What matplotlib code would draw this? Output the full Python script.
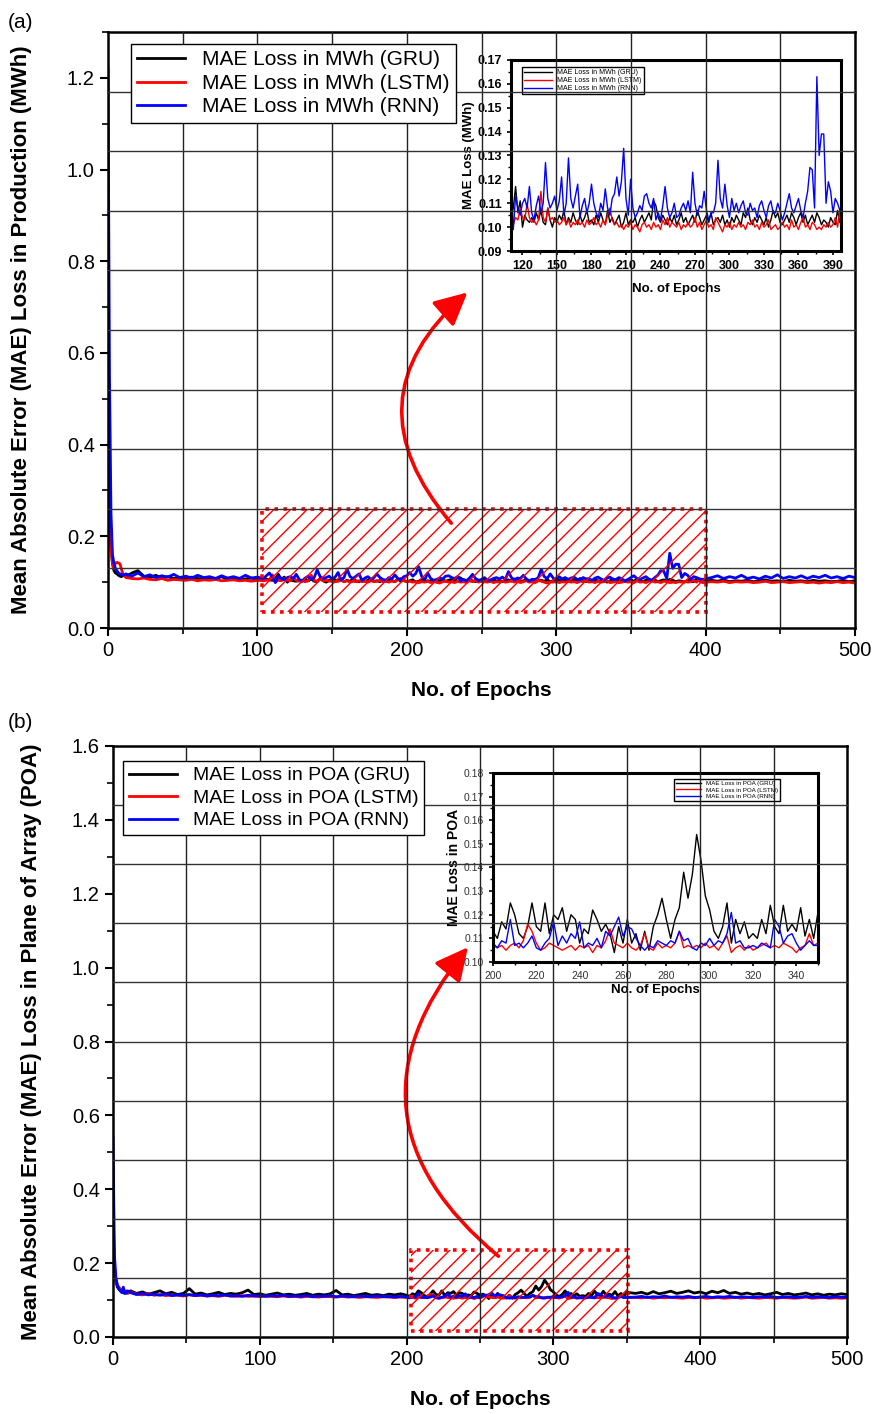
import numpy as np
import matplotlib
matplotlib.use('Agg')
import matplotlib.pyplot as plt
from matplotlib.lines import Line2D
from matplotlib.patches import Rectangle, FancyArrowPatch
from matplotlib.ticker import MultipleLocator, FormatStrFormatter

plt.rcParams['font.family'] = ['Liberation Sans', 'DejaVu Sans']
plt.rcParams['hatch.linewidth'] = 1.0

# ---------------- panel (a) data: MAE loss in MWh ----------------
ep_a = np.concatenate([np.arange(0, 11), np.arange(12, 109, 4),
                       np.arange(110, 399, 2), np.arange(404, 501, 4)])

gru_a = [
    0.60, 0.30, 0.18, 0.14, 0.125, 0.12, 0.118, 0.115, 0.113, 0.112, 0.115,
    # 12-108
    0.112, 0.120, 0.125, 0.113, 0.110, 0.115, 0.109, 0.112, 0.108, 0.110,
    0.107, 0.111, 0.108, 0.106, 0.110, 0.107, 0.112, 0.106, 0.108, 0.105,
    0.107, 0.109, 0.106, 0.108, 0.105,
    # 110-398
    0.104, 0.108, 0.117, 0.106, 0.111, 0.100, 0.105, 0.103, 0.102, 0.104,
    0.102, 0.106, 0.103, 0.107, 0.102, 0.101, 0.108, 0.103, 0.100, 0.104,
    0.102, 0.105, 0.103, 0.107, 0.101, 0.104, 0.102, 0.106, 0.103, 0.101,
    0.105, 0.102, 0.104, 0.107, 0.102, 0.103, 0.101, 0.105, 0.102, 0.106,
    0.103, 0.101, 0.107, 0.102, 0.104, 0.101, 0.103, 0.105, 0.100, 0.102,
    0.106, 0.101, 0.103, 0.102, 0.104, 0.100, 0.103, 0.105, 0.102, 0.104,
    0.106, 0.103, 0.111, 0.109, 0.104, 0.102, 0.105, 0.103, 0.101, 0.104,
    0.102, 0.105, 0.101, 0.103, 0.106, 0.102, 0.104, 0.101, 0.103, 0.105,
    0.102, 0.107, 0.104, 0.101, 0.103, 0.105, 0.102, 0.106, 0.101, 0.103,
    0.104, 0.102, 0.105, 0.101, 0.103, 0.100, 0.104, 0.102, 0.105, 0.103,
    0.101, 0.106, 0.104, 0.108, 0.103, 0.101, 0.104, 0.102, 0.105, 0.103,
    0.101, 0.104, 0.100, 0.103, 0.107, 0.104, 0.106, 0.102, 0.101, 0.103,
    0.105, 0.102, 0.106, 0.104, 0.101, 0.104, 0.106, 0.102, 0.105, 0.101,
    0.103, 0.105, 0.102, 0.106, 0.104, 0.101, 0.103, 0.102, 0.100, 0.104,
    0.102, 0.101, 0.107, 0.102, 0.101,
    # 404-500
    0.104, 0.102, 0.105, 0.101, 0.103, 0.102, 0.104, 0.101, 0.103, 0.105,
    0.102, 0.103, 0.101, 0.104, 0.102, 0.103, 0.101, 0.104, 0.102, 0.103,
    0.101, 0.102, 0.104, 0.101, 0.103,
]

lstm_a = [
    0.55, 0.28, 0.17, 0.14, 0.13, 0.142, 0.143, 0.142, 0.140, 0.128, 0.118,
    # 12-108
    0.110, 0.108, 0.107, 0.109, 0.106, 0.105, 0.108, 0.104, 0.106, 0.105,
    0.104, 0.106, 0.103, 0.105, 0.104, 0.106, 0.103, 0.104, 0.105, 0.103,
    0.104, 0.102, 0.104, 0.103, 0.105,
    # 110-398
    0.116, 0.101, 0.104, 0.103, 0.108, 0.104, 0.103, 0.110, 0.104, 0.102,
    0.103, 0.101, 0.103, 0.115, 0.104, 0.102, 0.108, 0.103, 0.104, 0.102,
    0.103, 0.101, 0.102, 0.104, 0.101, 0.103, 0.100, 0.102, 0.101, 0.103,
    0.101, 0.102, 0.100, 0.103, 0.101, 0.102, 0.104, 0.101, 0.102, 0.100,
    0.103, 0.101, 0.105, 0.108, 0.103, 0.101, 0.102, 0.100, 0.101, 0.099,
    0.101, 0.100, 0.102, 0.099, 0.101, 0.100, 0.098, 0.101, 0.102, 0.100,
    0.101, 0.099, 0.102, 0.100, 0.101, 0.099, 0.103, 0.101, 0.104, 0.100,
    0.102, 0.101, 0.100, 0.102, 0.099, 0.101, 0.100, 0.102, 0.100, 0.101,
    0.104, 0.100, 0.102, 0.099, 0.101, 0.103, 0.100, 0.101, 0.099, 0.104,
    0.102, 0.100, 0.098, 0.101, 0.100, 0.102, 0.099, 0.101, 0.100, 0.102,
    0.100, 0.101, 0.099, 0.102, 0.101, 0.103, 0.100, 0.101, 0.099, 0.102,
    0.100, 0.101, 0.103, 0.099, 0.100, 0.101, 0.099, 0.100, 0.102, 0.100,
    0.101, 0.099, 0.103, 0.100, 0.101, 0.099, 0.102, 0.104, 0.100, 0.101,
    0.099, 0.102, 0.101, 0.099, 0.100, 0.099, 0.101, 0.100, 0.102, 0.100,
    0.101, 0.104, 0.100, 0.107, 0.099,
    # 404-500
    0.101, 0.100, 0.102, 0.099, 0.101, 0.100, 0.101, 0.099, 0.100, 0.102,
    0.099, 0.100, 0.101, 0.099, 0.100, 0.101, 0.099, 0.100, 0.098, 0.100,
    0.099, 0.101, 0.099, 0.100, 0.098,
]

rnn_a = [
    1.22, 0.55, 0.25, 0.16, 0.14, 0.13, 0.125, 0.12, 0.118, 0.117, 0.115,
    # 12-108
    0.118, 0.113, 0.120, 0.112, 0.116, 0.110, 0.114, 0.111, 0.117, 0.110,
    0.113, 0.109, 0.115, 0.110, 0.112, 0.108, 0.114, 0.109, 0.112, 0.108,
    0.115, 0.109, 0.111, 0.108, 0.120,
    # 110-398
    0.111, 0.099, 0.113, 0.108, 0.105, 0.110, 0.112, 0.108, 0.117, 0.106,
    0.103, 0.109, 0.113, 0.106, 0.110, 0.127, 0.112, 0.108, 0.110, 0.113,
    0.107, 0.111, 0.121, 0.105, 0.110, 0.129, 0.112, 0.108, 0.113, 0.118,
    0.104, 0.109, 0.112, 0.106, 0.110, 0.118, 0.110, 0.106, 0.104, 0.110,
    0.107, 0.116, 0.108, 0.105, 0.112, 0.114, 0.121, 0.113, 0.119, 0.133,
    0.112, 0.105, 0.120, 0.108, 0.104, 0.106, 0.109, 0.107, 0.113, 0.114,
    0.110, 0.108, 0.112, 0.103, 0.106, 0.103, 0.109, 0.117, 0.108, 0.104,
    0.106, 0.110, 0.104, 0.105, 0.108, 0.110, 0.107, 0.111, 0.106, 0.123,
    0.110, 0.105, 0.109, 0.108, 0.115, 0.107, 0.103, 0.106, 0.106, 0.110,
    0.128, 0.112, 0.108, 0.118, 0.109, 0.104, 0.112, 0.107, 0.110, 0.106,
    0.109, 0.111, 0.106, 0.105, 0.110, 0.107, 0.108, 0.104, 0.109, 0.111,
    0.107, 0.104, 0.109, 0.111, 0.106, 0.106, 0.110, 0.107, 0.103, 0.106,
    0.110, 0.114, 0.108, 0.106, 0.109, 0.112, 0.107, 0.104, 0.110, 0.115,
    0.125, 0.124, 0.108, 0.163, 0.130, 0.139, 0.139, 0.110, 0.119, 0.115,
    0.106, 0.112, 0.110, 0.107, 0.106,
    # 404-500
    0.110, 0.114, 0.108, 0.112, 0.109, 0.115, 0.108, 0.111, 0.107, 0.113,
    0.109, 0.116, 0.108, 0.112, 0.109, 0.114, 0.108, 0.113, 0.110, 0.115,
    0.109, 0.112, 0.108, 0.113, 0.110,
]

labels_a = ['MAE Loss in MWh (GRU)', 'MAE Loss in MWh (LSTM)', 'MAE Loss in MWh (RNN)']

# ---------------- panel (b) data: MAE loss in POA ----------------
ep_b = np.concatenate([np.arange(0, 11), np.arange(12, 197, 4),
                       np.arange(200, 351, 2), np.arange(356, 501, 4)])

gru_b = [
    0.35, 0.19, 0.15, 0.135, 0.13, 0.125, 0.128, 0.12, 0.118, 0.122, 0.12,
    # 12-196
    0.125, 0.118, 0.122, 0.116, 0.120, 0.125, 0.117, 0.121, 0.115, 0.118,
    0.131, 0.116, 0.119, 0.114, 0.117, 0.121, 0.115, 0.118, 0.116, 0.120,
    0.127, 0.115, 0.117, 0.113, 0.116, 0.119, 0.114, 0.116, 0.113, 0.115,
    0.118, 0.113, 0.116, 0.114, 0.117, 0.126, 0.114, 0.116, 0.112, 0.115,
    0.118, 0.113, 0.115, 0.112, 0.116, 0.114, 0.117,
    # 200-350
    0.113, 0.110, 0.117, 0.114, 0.125, 0.120, 0.112, 0.110, 0.115, 0.125,
    0.115, 0.113, 0.125, 0.112, 0.120, 0.118, 0.123, 0.113, 0.120, 0.118,
    0.108, 0.114, 0.112, 0.122, 0.118, 0.113, 0.116, 0.112, 0.104, 0.115,
    0.108, 0.118, 0.108, 0.112, 0.105, 0.113, 0.105, 0.115, 0.120, 0.127,
    0.118, 0.110, 0.118, 0.123, 0.138, 0.127, 0.137, 0.154, 0.143, 0.128,
    0.122, 0.113, 0.110, 0.115, 0.125, 0.108, 0.118, 0.112, 0.117, 0.110,
    0.112, 0.110, 0.118, 0.112, 0.124, 0.115, 0.112, 0.124, 0.113, 0.116,
    0.113, 0.123, 0.111, 0.118, 0.110, 0.121,
    # 356-500
    0.118, 0.121, 0.116, 0.123, 0.117, 0.120, 0.124, 0.118, 0.121, 0.125,
    0.119, 0.122, 0.117, 0.124, 0.120, 0.126, 0.118, 0.121, 0.116, 0.119,
    0.115, 0.118, 0.114, 0.117, 0.121, 0.115, 0.118, 0.114, 0.116, 0.119,
    0.114, 0.117, 0.113, 0.116, 0.114, 0.117, 0.115,
]

lstm_b = [
    0.30, 0.18, 0.155, 0.14, 0.135, 0.13, 0.125, 0.13, 0.12, 0.125, 0.118,
    # 12-196
    0.122, 0.116, 0.114, 0.118, 0.113, 0.115, 0.112, 0.114, 0.113, 0.111,
    0.114, 0.112, 0.113, 0.111, 0.112, 0.110, 0.113, 0.111, 0.110, 0.112,
    0.110, 0.111, 0.109, 0.111, 0.110, 0.109, 0.111, 0.109, 0.110, 0.108,
    0.110, 0.109, 0.108, 0.110, 0.109, 0.108, 0.110, 0.108, 0.109, 0.107,
    0.109, 0.108, 0.107, 0.109, 0.108, 0.107, 0.108,
    # 200-350
    0.107, 0.106, 0.107, 0.105, 0.107, 0.108, 0.106, 0.109, 0.116, 0.113,
    0.108, 0.105, 0.106, 0.108, 0.107, 0.106, 0.105, 0.106, 0.107, 0.105,
    0.107, 0.106, 0.107, 0.104, 0.107, 0.106, 0.109, 0.114, 0.108, 0.107,
    0.106, 0.108, 0.106, 0.105, 0.107, 0.112, 0.106, 0.105, 0.108, 0.106,
    0.107, 0.106, 0.108, 0.113, 0.106, 0.107, 0.106, 0.107, 0.106, 0.108,
    0.106, 0.107, 0.105, 0.108, 0.111, 0.104, 0.106, 0.107, 0.105, 0.107,
    0.105, 0.106, 0.107, 0.108, 0.106, 0.107, 0.106, 0.108, 0.107, 0.106,
    0.104, 0.106, 0.107, 0.112, 0.107, 0.108,
    # 356-500
    0.107, 0.106, 0.108, 0.105, 0.107, 0.106, 0.108, 0.106, 0.105, 0.107,
    0.106, 0.108, 0.105, 0.106, 0.107, 0.105, 0.106, 0.108, 0.105, 0.107,
    0.106, 0.105, 0.107, 0.106, 0.105, 0.107, 0.106, 0.105, 0.106, 0.108,
    0.105, 0.106, 0.107, 0.105, 0.106, 0.105, 0.106,
]

rnn_b = [
    0.54, 0.22, 0.16, 0.14, 0.13, 0.125, 0.12, 0.135, 0.12, 0.118, 0.125,
    # 12-196
    0.120, 0.115, 0.118, 0.114, 0.116, 0.113, 0.117, 0.112, 0.114, 0.113,
    0.115, 0.112, 0.114, 0.111, 0.113, 0.112, 0.114, 0.111, 0.112, 0.110,
    0.113, 0.111, 0.112, 0.110, 0.112, 0.111, 0.113, 0.110, 0.111, 0.110,
    0.112, 0.109, 0.111, 0.110, 0.112, 0.109, 0.111, 0.110, 0.109, 0.111,
    0.110, 0.109, 0.111, 0.109, 0.110, 0.108, 0.110,
    # 200-350
    0.108, 0.106, 0.109, 0.108, 0.118, 0.107, 0.108, 0.106, 0.108, 0.111,
    0.106, 0.105, 0.108, 0.110, 0.117, 0.107, 0.111, 0.108, 0.112, 0.110,
    0.117, 0.106, 0.108, 0.107, 0.110, 0.106, 0.113, 0.111, 0.115, 0.119,
    0.111, 0.115, 0.114, 0.110, 0.107, 0.105, 0.107, 0.106, 0.109, 0.108,
    0.107, 0.109, 0.108, 0.113, 0.109, 0.110, 0.106, 0.105, 0.108, 0.107,
    0.110, 0.107, 0.109, 0.108, 0.112, 0.121, 0.108, 0.109, 0.106, 0.106,
    0.107, 0.106, 0.108, 0.107, 0.106, 0.118, 0.115, 0.108, 0.111, 0.112,
    0.108, 0.105, 0.107, 0.109, 0.107, 0.107,
    # 356-500
    0.108, 0.110, 0.107, 0.109, 0.108, 0.111, 0.107, 0.109, 0.108, 0.110,
    0.107, 0.108, 0.110, 0.107, 0.109, 0.108, 0.110, 0.107, 0.109, 0.108,
    0.107, 0.109, 0.108, 0.110, 0.107, 0.108, 0.109, 0.107, 0.108, 0.110,
    0.107, 0.109, 0.108, 0.107, 0.109, 0.108, 0.107,
]

labels_b = ['MAE Loss in POA (GRU)', 'MAE Loss in POA (LSTM)', 'MAE Loss in POA (RNN)']

colors = ['black', 'red', 'blue']

fig = plt.figure(figsize=(8.75, 14.14), dpi=100)


def main_axes(rect, ymax, ymajor, ylabel, ylabel_x):
    ax = fig.add_axes(rect)
    ax.set_xlim(0, 500)
    ax.set_ylim(0, ymax)
    ax.xaxis.set_major_locator(MultipleLocator(100))
    ax.xaxis.set_minor_locator(MultipleLocator(50))
    ax.yaxis.set_major_locator(MultipleLocator(ymajor))
    ax.yaxis.set_minor_locator(MultipleLocator(ymajor / 2))
    ax.yaxis.set_major_formatter(FormatStrFormatter('%.1f'))
    ax.tick_params(which='major', direction='out', length=6, width=1.5, labelsize=14.5)
    ax.tick_params(which='minor', direction='out', length=4, width=1.2)
    for s in ax.spines.values():
        s.set_linewidth(1.8)
    ax.set_xlabel('No. of Epochs', fontsize=15, fontweight='bold', labelpad=15)
    ax.set_ylabel(ylabel, fontsize=16, fontweight='bold')
    ax.yaxis.set_label_coords(ylabel_x, 0.5)
    # grid drawn above everything (also over the inset), like the original
    for xv in range(50, 500, 50):
        fig.add_artist(Line2D([xv, xv], [0, 1], transform=ax.get_xaxis_transform(),
                              color='#222222', lw=1.0, zorder=3))
    for f in np.arange(1, 10) / 10:
        fig.add_artist(Line2D([0, 1], [f, f], transform=ax.transAxes,
                              color='#333333', lw=1.0, zorder=3))
    return ax


def zoom_box(ax, x0, x1, y0, y1):
    ax.add_patch(Rectangle((x0, y0), x1 - x0, y1 - y0, fill=False, hatch='//',
                           edgecolor='red', lw=2.6, linestyle=(0, (1, 1.5)), zorder=4))


# ---------------- panel (a) ----------------
ax_a = main_axes([108 / 875, 1 - 628 / 1414, 747 / 875, 596 / 1414], 1.3, 0.2,
                 'Mean Absolute Error (MAE) Loss in Production (MWh)', -0.102)
lines_a = []
for ys, c, lb in zip([gru_a, lstm_a, rnn_a], colors, labels_a):
    ln, = ax_a.plot(ep_a, ys, color=c, lw=2, label=lb)
    lines_a.append(ln)
zoom_box(ax_a, 103, 400, 0.035, 0.259)
ax_a.add_patch(FancyArrowPatch((231, 0.224), (242, 0.736), connectionstyle='arc3,rad=-0.5',
                               arrowstyle='-|>,head_length=1.0,head_width=0.5',
                               mutation_scale=20, color='red', lw=2.6, zorder=6))
fig.text(8 / 875, 1 - 22 / 1414, '(a)', fontsize=15, va='center')
fig.legend(handles=lines_a, loc='upper left', bbox_to_anchor=(131 / 875, 1 - 44 / 1414),
           borderaxespad=0, fontsize=15, handlelength=2.3, labelspacing=0.22,
           borderpad=0.3, fancybox=False, framealpha=1, edgecolor='black').set_zorder(10)

ins_a = fig.add_axes([511 / 875, 1 - 251 / 1414, 330 / 875, 191 / 1414])
for ys, c, lb in zip([gru_a, lstm_a, rnn_a], colors, labels_a):
    ins_a.plot(ep_a, ys, color=c, lw=1.0, label=lb)
ins_a.set_xlim(110, 397)
ins_a.set_ylim(0.09, 0.17)
ins_a.xaxis.set_major_locator(MultipleLocator(30))
ins_a.xaxis.set_minor_locator(MultipleLocator(15))
ins_a.yaxis.set_major_locator(MultipleLocator(0.01))
ins_a.yaxis.set_minor_locator(MultipleLocator(0.005))
ins_a.yaxis.set_major_formatter(FormatStrFormatter('%.2f'))
ins_a.tick_params(which='major', direction='out', length=3, width=1.2, labelsize=9)
ins_a.tick_params(which='minor', direction='out', length=2, width=1)
for t in ins_a.get_xticklabels() + ins_a.get_yticklabels():
    t.set_fontweight('bold')
for s in ins_a.spines.values():
    s.set_linewidth(2.2)
ins_a.set_xlabel('No. of Epochs', fontsize=9.5, fontweight='bold', labelpad=8)
ins_a.set_ylabel('MAE Loss (MWh)', fontsize=9.5, fontweight='bold', labelpad=2)
ins_a.legend(loc='upper left', bbox_to_anchor=(0.033, 0.963), borderaxespad=0, fontsize=5,
             handlelength=4, labelspacing=0.15, borderpad=0.3, fancybox=False,
             framealpha=1, edgecolor='black')

# ---------------- panel (b) ----------------
ax_b = main_axes([113 / 875, 1 - 1337 / 1414, 734 / 875, 591 / 1414], 1.6, 0.2,
                 'Mean Absolute Error (MAE) Loss in Plane of Array (POA)', -0.097)
lines_b = []
for ys, c, lb in zip([gru_b, lstm_b, rnn_b], colors, labels_b):
    ln, = ax_b.plot(ep_b, ys, color=c, lw=2, label=lb)
    lines_b.append(ln)
zoom_box(ax_b, 203, 351, 0.016, 0.235)
ax_b.add_patch(FancyArrowPatch((264, 0.214), (243, 1.061), connectionstyle='arc3,rad=-0.5',
                               arrowstyle='-|>,head_length=1.0,head_width=0.5',
                               mutation_scale=20, color='red', lw=2.6, zorder=6))
fig.text(8 / 875, 1 - 722 / 1414, '(b)', fontsize=15, va='center')
fig.legend(handles=lines_b, loc='upper left', bbox_to_anchor=(123 / 875, 1 - 761 / 1414),
           borderaxespad=0, fontsize=14, handlelength=2.5, labelspacing=0.25,
           borderpad=0.3, fancybox=False, framealpha=1, edgecolor='black').set_zorder(10)

ins_b = fig.add_axes([493 / 875, 1 - 962 / 1414, 325 / 875, 189 / 1414])
for ys, c, lb in zip([gru_b, lstm_b, rnn_b], colors, labels_b):
    ins_b.plot(ep_b, ys, color=c, lw=1.0, label=lb)
ins_b.set_xlim(200, 350)
ins_b.set_ylim(0.10, 0.18)
ins_b.xaxis.set_major_locator(MultipleLocator(20))
ins_b.xaxis.set_minor_locator(MultipleLocator(10))
ins_b.yaxis.set_major_locator(MultipleLocator(0.01))
ins_b.yaxis.set_minor_locator(MultipleLocator(0.005))
ins_b.yaxis.set_major_formatter(FormatStrFormatter('%.2f'))
ins_b.tick_params(which='major', direction='out', length=3, width=1.2, labelsize=7.5,
                  labelcolor='#333333')
ins_b.tick_params(which='minor', direction='out', length=2, width=1)
for s in ins_b.spines.values():
    s.set_linewidth(2.2)
ins_b.set_xlabel('No. of Epochs', fontsize=9.5, fontweight='bold', labelpad=2)
ins_b.set_ylabel('MAE Loss in POA', fontsize=10, fontweight='bold', labelpad=2)
ins_b.legend(loc='upper right', bbox_to_anchor=(0.883, 0.968), borderaxespad=0, fontsize=4.5,
             handlelength=4, labelspacing=0.15, borderpad=0.3, fancybox=False,
             framealpha=1, edgecolor='black')

fig.savefig('out.png', dpi=100)
